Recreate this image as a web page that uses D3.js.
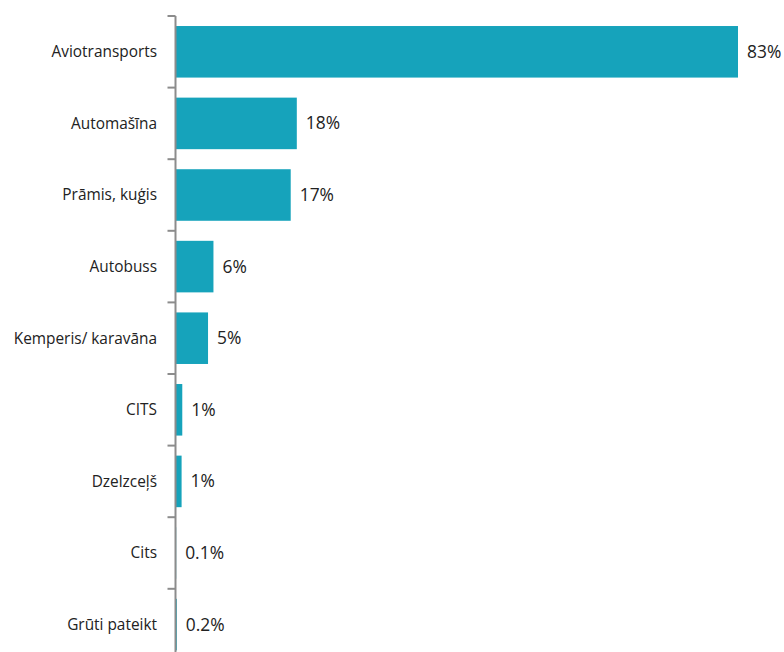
<!DOCTYPE html>
<html><head><meta charset="utf-8">
<script src="https://cdn.jsdelivr.net/npm/d3@7"></script>
<style>body{margin:0;background:#fff}</style>
</head><body>
<script>
const categories = ["Aviotransports","Automašīna","Prāmis, kuģis","Autobuss","Kemperis/ karavāna","CITS","Dzelzceļš","Cits","Grūti pateikt"];
const values = [83, 17.9, 17, 5.6, 4.8, 1.0, 0.9, 0.1, 0.2];
const valueLabels = ["83%","18%","17%","6%","5%","1%","1%","0.1%","0.2%"];

const W = 784, H = 652;
const svg = d3.select("body").append("svg").attr("width", W).attr("height", H);
const x0 = 175.5;
const x = d3.scaleLinear().domain([0, 83]).range([x0, 738]);
const y = d3.scaleBand().domain(categories).range([16, 16 + 71.6 * 9]).paddingInner(0.28).paddingOuter(0.14);

const bandStep = y.step();
svg.selectAll("rect.bar").data(categories).enter().append("rect")
  .attr("x", x(0))
  .attr("y", d => y(d))
  .attr("width", (d, i) => x(values[i]) - x(0))
  .attr("height", y.bandwidth())
  .attr("fill", "#16a3bb");

const g = svg.append("g");
g.append("line").attr("x1", x0).attr("x2", x0).attr("y1", 16).attr("y2", H)
  .attr("stroke", "#8c8c8c").attr("stroke-width", 2);
const bounds = d3.range(9).map(i => 16 + i * bandStep);
g.selectAll("line.tick").data(bounds).enter().append("line")
  .attr("x1", x0 - 8).attr("x2", x0).attr("y1", d => d).attr("y2", d => d)
  .attr("stroke", "#8c8c8c").attr("stroke-width", 2);

svg.selectAll("text.cat").data(categories).enter().append("text")
  .attr("x", 157).attr("y", d => y(d) + y.bandwidth() / 2)
  .attr("dy", "0.35em").attr("text-anchor", "end")
  .attr("font-family", "'Open Sans', sans-serif").attr("font-size", 15.4)
  .attr("fill", "#222").text(d => d);

svg.selectAll("text.val").data(categories).enter().append("text")
  .attr("x", (d, i) => x(values[i]) + 9).attr("y", d => y(d) + y.bandwidth() / 2)
  .attr("dy", "0.35em").attr("text-anchor", "start")
  .attr("font-family", "'Open Sans', sans-serif").attr("font-size", 17.4)
  .attr("fill", "#222").text((d, i) => valueLabels[i]);
</script>
</body></html>
